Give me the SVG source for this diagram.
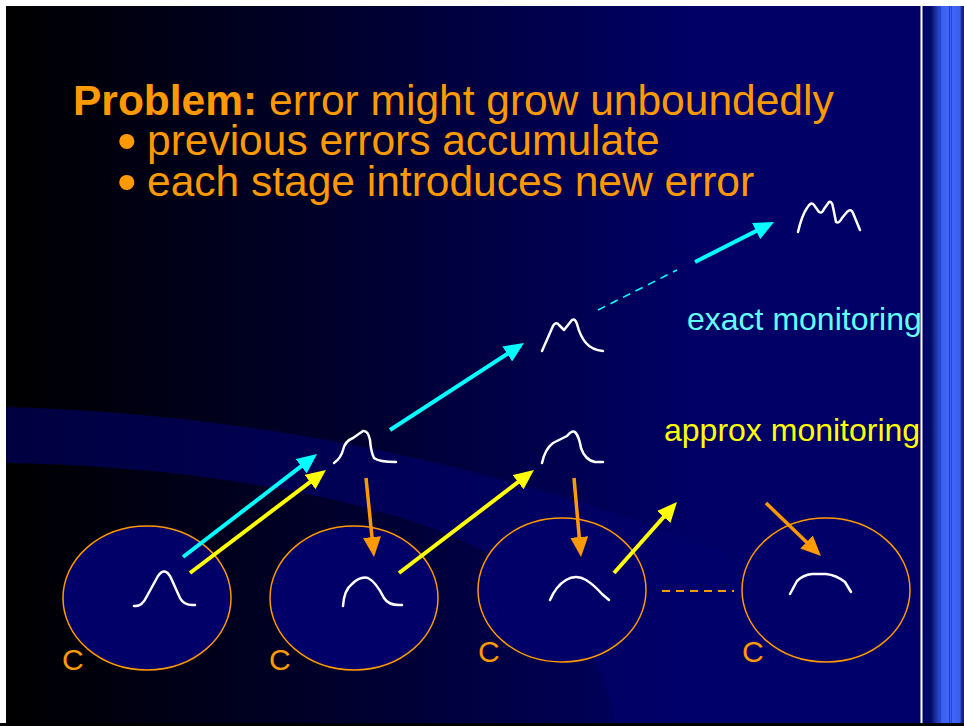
<svg xmlns="http://www.w3.org/2000/svg" width="964" height="726" viewBox="0 0 964 726">
  <defs>
    <linearGradient id="bg" x1="6" y1="0" x2="700" y2="0" gradientUnits="userSpaceOnUse">
      <stop offset="0" stop-color="#000000"/>
      <stop offset="0.5" stop-color="#00002e"/>
      <stop offset="1" stop-color="#000066"/>
    </linearGradient>
    <linearGradient id="band" x1="6" y1="0" x2="700" y2="0" gradientUnits="userSpaceOnUse">
      <stop offset="0" stop-color="#000040"/>
      <stop offset="1" stop-color="#00006a"/>
    </linearGradient>
    <linearGradient id="stripe" x1="921" y1="0" x2="964" y2="0" gradientUnits="userSpaceOnUse">
      <stop offset="0" stop-color="#000066"/>
      <stop offset="0.23" stop-color="#000a66"/>
      <stop offset="0.30" stop-color="#15228a"/>
      <stop offset="0.43" stop-color="#2a48d0"/>
      <stop offset="0.44" stop-color="#1a2a90"/>
      <stop offset="0.47" stop-color="#3a60f0"/>
      <stop offset="0.64" stop-color="#3f66f5"/>
      <stop offset="0.65" stop-color="#1b2a90"/>
      <stop offset="0.69" stop-color="#3f66f5"/>
      <stop offset="0.70" stop-color="#1b2a90"/>
      <stop offset="0.72" stop-color="#3f66f5"/>
      <stop offset="0.91" stop-color="#3a5cee"/>
      <stop offset="0.94" stop-color="#1a2a90"/>
      <stop offset="1" stop-color="#101c70"/>
    </linearGradient>
    <marker id="hCyan" viewBox="0 0 20 18" markerUnits="userSpaceOnUse" markerWidth="20" markerHeight="18" refX="12" refY="9" orient="auto">
      <path d="M0,0 L20,9 L0,18 Z" fill="#00ffff"/>
    </marker>
    <marker id="hYellow" viewBox="0 0 20 18" markerUnits="userSpaceOnUse" markerWidth="20" markerHeight="18" refX="12" refY="9" orient="auto">
      <path d="M0,0 L20,9 L0,18 Z" fill="#ffff00"/>
    </marker>
    <marker id="hOrange" viewBox="0 0 20 18" markerUnits="userSpaceOnUse" markerWidth="20" markerHeight="18" refX="12" refY="9" orient="auto">
      <path d="M0,0 L20,9 L0,18 Z" fill="#ff9900"/>
    </marker>
  </defs>
  <style>
    .title { font-family: "Liberation Sans", Arial, sans-serif; font-size: 42.5px; fill: #ff9900; }
    .bullet { font-family: "Liberation Sans", Arial, sans-serif; font-size: 56px; fill: #ff9900; }
    .lbl { font-family: "Liberation Sans", Arial, sans-serif; font-size: 32px; }
    .c { font-family: "Liberation Sans", Arial, sans-serif; font-size: 30px; fill: #ff9900; }
    .circ { fill: #000068; stroke: #ff9900; stroke-width: 1.5; }
    .dist { fill: none; stroke: #ffffff; stroke-width: 2.5; stroke-linecap: round; stroke-linejoin: round; }
    .cy { stroke: #00ffff; stroke-width: 4; fill: none; }
    .ye { stroke: #ffff00; stroke-width: 4; fill: none; }
    .or { stroke: #ff9900; stroke-width: 3.5; fill: none; }
  </style>

  <!-- slide background -->
  <g id="background">
    <rect x="0" y="0" width="964" height="726" fill="#ffffff"/>
    <rect x="6" y="6" width="958" height="720" fill="url(#bg)"/>
    <path d="M6,407 Q480,420 921,640 L921,723 L615,723 C605,660 560,600 500,560 C400,500 200,466 6,463 Z" fill="url(#band)"/>
    <rect x="921" y="6" width="43" height="717" fill="url(#stripe)"/>
    <rect x="920.5" y="6" width="2" height="717" fill="#ffffff"/>
    <rect x="0" y="723" width="964" height="3" fill="#000000"/>
  </g>

  <g id="title">
    <text class="title" x="73" y="115"><tspan font-weight="bold">Problem:</tspan> error might grow unboundedly</text>
    <text class="bullet" x="117" y="160">•</text>
    <text class="title" x="147" y="155">previous errors accumulate</text>
    <text class="bullet" x="117" y="201">•</text>
    <text class="title" x="147" y="196">each stage introduces new error</text>
  </g>

  <g id="label-exact">
    <text class="lbl" x="687" y="330" fill="#66ffff">exact monitoring</text>
  </g>
  <g id="label-approx">
    <text class="lbl" x="664" y="441" fill="#ffff00">approx monitoring</text>
  </g>

  <!-- site nodes -->
  <g id="site1">
    <ellipse class="circ" cx="147" cy="598" rx="84" ry="72"/>
    <path class="dist" d="M134,606 Q142,607 147,596 L158,576 Q165,566 171,578 L180,598 Q184,606 195,605"/>
    <text class="c" x="62" y="670">C</text>
  </g>
  <g id="site2">
    <ellipse class="circ" cx="354" cy="598" rx="84" ry="72"/>
    <path class="dist" d="M343,606 Q344,590 352,584 Q360,576 368,578 Q376,582 384,598 Q389,606 402,605"/>
    <text class="c" x="269" y="670">C</text>
  </g>
  <g id="site3">
    <ellipse class="circ" cx="562" cy="590" rx="84" ry="72"/>
    <path class="dist" d="M550,600 Q556,586 566,580 Q576,574 586,580 Q594,585 602,594 L609,600"/>
    <text class="c" x="478" y="662">C</text>
  </g>
  <g id="site4">
    <ellipse class="circ" cx="826" cy="590" rx="84" ry="72"/>
    <path class="dist" d="M790,594 L797,581 Q803,575 812,574 L826,574 Q836,575 845,582 L851,592"/>
    <text class="c" x="742" y="662">C</text>
  </g>

  <!-- distribution nodes -->
  <g id="approx1">
    <path class="dist" d="M334,463 Q341,458 343,450 Q345,441 353,438 Q360,433 363,431 Q368,430 370,440 Q371,452 374,458 Q379,462 396,462"/>
  </g>
  <g id="approx2">
    <path class="dist" d="M542,463 Q545,449 553,443 Q563,438 567,436 Q572,430 575,432 Q579,436 581,448 Q585,460 595,462 L603,462"/>
  </g>
  <g id="exact2">
    <path class="dist" d="M542,351 L553,326 Q556,321 559,325 L564,330 L572,320 Q575,318 577,324 Q580,336 586,343 Q592,350 603,351"/>
  </g>
  <g id="exactN">
    <path class="dist" d="M798,232 Q802,215 807,208 Q811,201 814,205 L819,212 Q822,214 824,209 L829,202 Q832,201 833,207 L836,222 Q839,224 842,218 L847,212 Q851,208 853,213 L860,230"/>
  </g>

  <g id="connectors">
    <line class="cy" x1="183" y1="557" x2="310.7" y2="458.9" marker-end="url(#hCyan)"/>
    <line class="cy" x1="390" y1="430" x2="517.3" y2="347.4" marker-end="url(#hCyan)"/>
    <line x1="598" y1="310" x2="677" y2="270" stroke="#00ffff" stroke-width="1.6" stroke-dasharray="8,6"/>
    <line class="cy" x1="695" y1="262" x2="766.9" y2="225.6" marker-end="url(#hCyan)"/>
    <line class="ye" x1="190" y1="573" x2="319.6" y2="474.8" marker-end="url(#hYellow)"/>
    <line class="ye" x1="399" y1="573" x2="527.6" y2="474.9" marker-end="url(#hYellow)"/>
    <line class="ye" x1="614" y1="573" x2="671.7" y2="508" marker-end="url(#hYellow)"/>
    <line class="or" x1="366" y1="478" x2="373.2" y2="549" marker-end="url(#hOrange)"/>
    <line class="or" x1="574" y1="478" x2="580.3" y2="549" marker-end="url(#hOrange)"/>
    <line class="or" x1="766" y1="503" x2="815.2" y2="550.4" marker-end="url(#hOrange)"/>
    <line x1="662" y1="591" x2="734" y2="591" stroke="#ff9900" stroke-width="2" stroke-dasharray="8,6"/>
  </g>
</svg>
